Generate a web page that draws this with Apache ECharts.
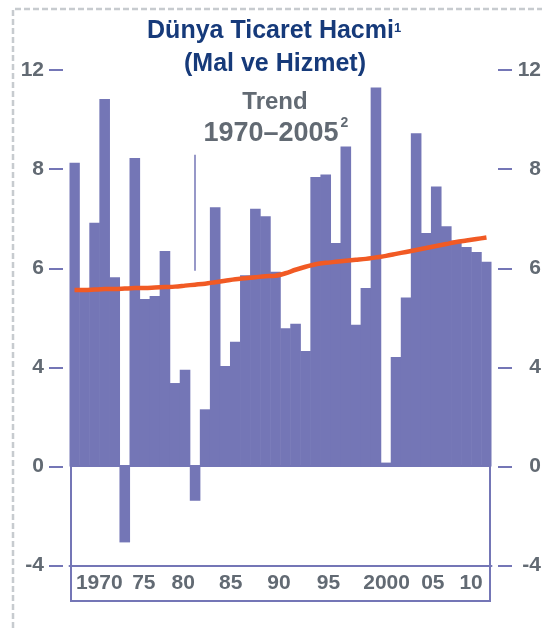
<!DOCTYPE html>
<html>
<head>
<meta charset="utf-8">
<title>Dünya Ticaret Hacmi</title>
<script src="https://cdn.jsdelivr.net/npm/echarts@6/dist/echarts.min.js"></script>
<style>
html, body { margin: 0; padding: 0; background: #fff; }
#chart { width: 542px; height: 628px; }
</style>
</head>
<body>
<div id="chart"></div>
<script>
// yillar
var years = ['1970', '1971', '1972', '1973', '1974', '1975', '1976', '1977', '1978', '1979',
	'1980', '1981', '1982', '1983', '1984', '1985', '1986', '1987', '1988', '1989',
	'1990', '1991', '1992', '1993', '1994', '1995', '1996', '1997', '1998', '1999',
	'2000', '2001', '2002', '2003', '2004', '2005', '2006', '2007', '2008', '2009',
	'2010', '2011'];
// dunya ticaret hacmi (yuzde degisim)
var volume = [8.26, 5.52, 6.92, 10.83, 5.82, -3.06, 8.45, 5.38, 5.44, 6.35,
	3.37, 3.91, -1.38, 2.31, 7.23, 4.03, 4.52, 5.86, 7.20, 7.05,
	5.93, 4.79, 4.88, 4.33, 7.84, 7.89, 6.51, 8.91, 4.86, 5.60,
	11.29, 0.16, 4.21, 5.41, 9.45, 6.71, 7.65, 6.85, 6.56, 6.43,
	6.33, 6.13];
// trend 1970-2005
var trend = [5.56, 5.56, 5.57, 5.58, 5.58, 5.59, 5.60, 5.60, 5.61, 5.62,
	5.63, 5.65, 5.67, 5.69, 5.72, 5.75, 5.78, 5.80, 5.82, 5.84,
	5.85, 5.90, 5.97, 6.03, 6.08, 6.11, 6.13, 6.15, 6.17, 6.19,
	6.22, 6.25, 6.29, 6.33, 6.37, 6.41, 6.45, 6.49, 6.53, 6.56,
	6.59, 6.62];
// 1982 deki ince cizgi
var spikeYear = '1982';
var spike = [5.95, 8.58];
// eksen etiketleri (esit aralikli)
var yTicks = [-4, 0, 4, 6, 8, 12];
var xLabels = ['1970', '75', '80', '85', '90', '95', '2000', '05', '10'];
var xLabelAt = [1972.46, 1976.9, 1980.81, 1985.54, 1990.34, 1995.28, 2001.06, 2005.66, 2009.47];

var purple = '#7476b6';
var gray = '#626a73';
var navy = '#163a7a';

// etiketler esit aralikli, degerleri eksen konumuna cevir
function toAxis(v) {
	for (var i = 0; i < yTicks.length - 1; i++) {
		if (v <= yTicks[i + 1] || i == yTicks.length - 2) {
			return i - 1 + (v - yTicks[i]) / (yTicks[i + 1] - yTicks[i]);
		}
	}
}

function yLabel(v) {
	return String(yTicks[Math.round(v) + 1]);
}

function xLabel(v) {
	var best = 0;
	for (var i = 1; i < xLabelAt.length; i++) {
		if (Math.abs(xLabelAt[i] - v) < Math.abs(xLabelAt[best] - v)) best = i;
	}
	return xLabels[best];
}

function makeYAxis(pos, margin, align) {
	return {
		type: 'value',
		gridIndex: 0,
		position: pos,
		min: -1,
		max: 4,
		interval: 1,
		offset: 6.5,
		axisLine: {show: false},
		axisTick: {show: true, length: 14, lineStyle: {color: purple, width: 2}},
		splitLine: {show: false},
		axisLabel: {
			margin: margin,
			align: align,
			fontFamily: 'Liberation Sans', fontSize: 21, fontWeight: 'bold', color: gray,
			formatter: yLabel
		}
	};
}

var option = {
	animation: false,
	backgroundColor: '#fff',
	grid: [
		{left: 69.5, right: 50.5, top: 70, bottom: 62.3, outerBoundsMode: 'none'},
		{left: 71, right: 52, top: 466, bottom: 27, show: true, borderColor: purple, borderWidth: 2, backgroundColor: 'transparent', outerBoundsMode: 'none'}
	],
	xAxis: [
		{type: 'category', data: years, gridIndex: 0, position: 'bottom', boundaryGap: true, show: false},
		{
			type: 'value', gridIndex: 0, position: 'bottom', min: 1969.5, max: 2011.5,
			axisLine: {show: true, onZero: false, lineStyle: {color: purple, width: 2}},
			axisTick: {show: false},
			splitLine: {show: false},
			axisLabel: {
				customValues: xLabelAt,
				margin: 7,
				fontFamily: 'Liberation Sans', fontSize: 21, fontWeight: 'bold', color: gray,
				formatter: xLabel
			}
		},
		{type: 'value', gridIndex: 1, show: false}
	],
	yAxis: [
		makeYAxis('left', 19, 'right'),
		makeYAxis('right', 43, 'right'),
		{type: 'value', gridIndex: 1, show: false}
	],
	graphic: [
		{type: 'polyline', shape: {points: [[13, 628], [13, 9], [542, 9]]}, style: {stroke: '#c7cbcf', lineWidth: 2.5, lineDash: [6, 3], fill: null}, silent: true},
		{type: 'text', x: 270.5, y: 31, style: {text: 'Dünya Ticaret Hacmi', fill: navy, font: 'bold 25px "Liberation Sans"', textAlign: 'center', textVerticalAlign: 'middle'}},
		{type: 'text', x: 397.5, y: 28, style: {text: '1', fill: navy, font: 'bold 13px "Liberation Sans"', textAlign: 'center', textVerticalAlign: 'middle'}},
		{type: 'text', x: 275, y: 64, style: {text: '(Mal ve Hizmet)', fill: navy, font: 'bold 25px "Liberation Sans"', textAlign: 'center', textVerticalAlign: 'middle'}},
		{type: 'text', x: 275, y: 102, style: {text: 'Trend', fill: gray, font: 'bold 24px "Liberation Sans"', textAlign: 'center', textVerticalAlign: 'middle'}},
		{type: 'text', x: 271, y: 134, style: {text: '1970\u20132005', fill: gray, font: 'bold 27px "Liberation Sans"', textAlign: 'center', textVerticalAlign: 'middle'}},
		{type: 'text', x: 344.5, y: 123, style: {text: '2', fill: gray, font: 'bold 14px "Liberation Sans"', textAlign: 'center', textVerticalAlign: 'middle'}}
	],
	series: [
		{
			name: 'Dünya Ticaret Hacmi',
			type: 'bar',
			xAxisIndex: 0,
			yAxisIndex: 0,
			data: volume.map(toAxis),
			barWidth: 10.6,
			itemStyle: {color: purple},
			z: 2,
			markLine: {
				silent: true,
				symbol: 'none',
				label: {show: false},
				lineStyle: {color: purple, width: 1.5, type: 'solid'},
				data: [[{coord: [spikeYear, toAxis(spike[1])]}, {coord: [spikeYear, toAxis(spike[0])]}]]
			}
		},
		{
			name: 'Trend',
			type: 'line',
			xAxisIndex: 0,
			yAxisIndex: 0,
			data: trend.map(toAxis),
			symbol: 'none',
			smooth: 0.3,
			lineStyle: {color: '#f15a24', width: 4.5},
			z: 3
		}
	]
};

var myChart = echarts.init(document.getElementById('chart'));
myChart.setOption(option);
</script>
</body>
</html>
